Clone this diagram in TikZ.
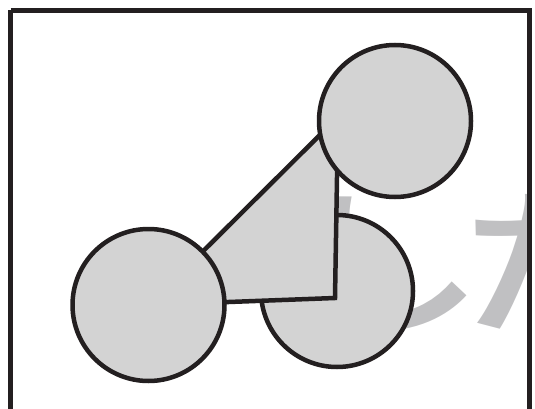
\documentclass[tikz,border=0pt]{standalone}
\usepackage{fontspec}
\newfontfamily\cjk{Noto Sans CJK JP Medium}
\usepackage{tikz}
\usetikzlibrary{calc}

\definecolor{discfill}{RGB}{211,211,211}
\definecolor{inkline}{RGB}{35,31,32}
\definecolor{faintink}{RGB}{192,192,194}

\tikzset{
    disc/.style={circle, draw=inkline, fill=discfill, line width=4.5pt, minimum size=152pt, inner sep=0pt},
    wedge/.style={draw=inkline, fill=discfill, line width=4.5pt, line join=miter},
}

\begin{document}
\begin{tikzpicture}[x=1pt, y=-1pt]
        \useasboundingbox (0,0) rectangle (535,409);
        % faint lettering behind, cut by the frame
        \begin{scope}
            \clip (10,10) rectangle (530,409);
            \node[anchor=base west, inner sep=0pt, text=faintink, xscale=1.3, font=\cjk\fontsize{160}{160}\selectfont] (word) at (278,322) {し\kern-0.15em た};
        \end{scope}
        \node[disc] (lower) at (337,291) {};
        \coordinate (apex) at (338,117);
        \coordinate (corner) at (335,298);
        \coordinate (hub) at (149,305);
        \filldraw[wedge] (hub) -- (apex) -- (corner) -- cycle;
        \node[disc] (left) at (148.5,305) {};
        \node[disc] (upper) at (395,121) {};
        \draw[inkline, line width=4.5pt] (10.5,10.5) -- (10.5,415) (10.5,10.5) -- (529.5,10.5) -- (529.5,415);
    \end{tikzpicture}
\end{document}
